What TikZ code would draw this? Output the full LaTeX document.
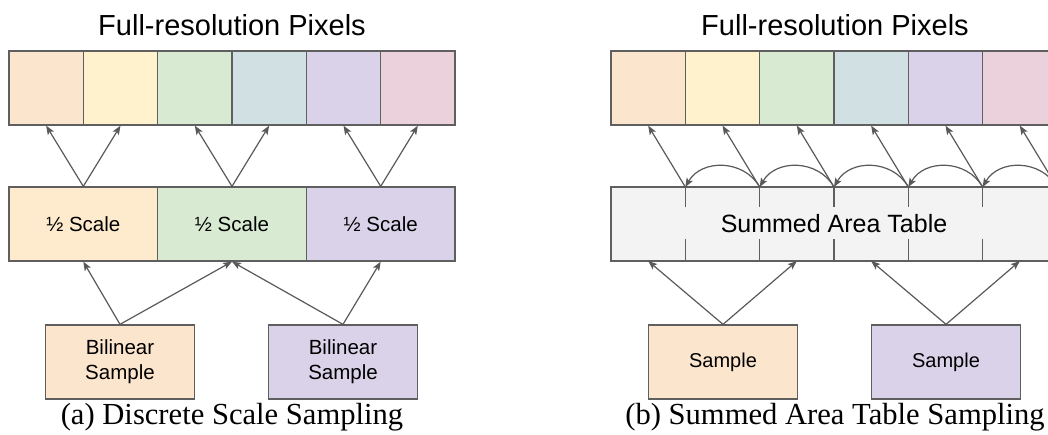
\documentclass[tikz,border=0pt]{standalone}
\usepackage{fontspec}
\setmainfont{Liberation Serif}
\setsansfont{Liberation Sans}
\usetikzlibrary{positioning,arrows.meta}

\definecolor{corange}{HTML}{FCE5CD}
\definecolor{cyellow}{HTML}{FFF2CC}
\definecolor{chalf}{HTML}{FEEACC}
\definecolor{cgreen}{HTML}{D9EAD3}
\definecolor{cblue}{HTML}{D0E0E3}
\definecolor{cpurple}{HTML}{D9D2E9}
\definecolor{cpink}{HTML}{EAD1DC}
\definecolor{cgray}{HTML}{F3F3F3}
\definecolor{cline}{HTML}{5F5F5F}
\definecolor{carrow}{HTML}{595959}

\begin{document}
\begin{tikzpicture}[x=1pt,y=-1pt,
  cell/.style={draw=cline, line width=1.3pt, minimum width=74.33pt, minimum height=74pt, inner sep=0pt,
    font=\sffamily\fontsize{20.5}{25}\selectfont, align=center},
  wide/.style={cell, minimum width=148.67pt},
  arr/.style={-{Stealth[length=9pt,width=7pt,inset=2pt]}, draw=carrow, line width=1.2pt},
  tick/.style={draw=cline, line width=1.3pt},
  title/.style={font=\sffamily\fontsize{29}{34}\selectfont},
  caption/.style={font=\fontsize{30.6}{36}\selectfont}]

\useasboundingbox (0,0) rectangle (1048,434);
\clip (0,0) rectangle (1048,434);

% (a) discrete scales
\node[title] (ta) at (232,25) {Full-resolution Pixels};
\foreach \c [count=\i] in {corange,cyellow,cgreen,cblue,cpurple,cpink}
  \node[cell, fill=\c] (a\i) at ({9+74.33*(\i-0.5)},88) {};

\node[wide, fill=chalf] (m1) at (83.3,224) {½ Scale};
\node[wide, fill=cgreen] (m2) at (232,224) {½ Scale};
\node[wide, fill=cpurple] (m3) at (380.7,224) {½ Scale};

\node[wide, fill=corange, font=\sffamily\fontsize{20.5}{25}\selectfont] (b1) at (120,362) {Bilinear\\Sample};
\node[wide, fill=cpurple, font=\sffamily\fontsize{20.5}{25}\selectfont] (b2) at (343,362) {Bilinear\\Sample};

\draw[arr] (m1.north) -- (a1.south);
\draw[arr] (m1.north) -- (a2.south);
\draw[arr] (m2.north) -- (a3.south);
\draw[arr] (m2.north) -- (a4.south);
\draw[arr] (m3.north) -- (a5.south);
\draw[arr] (m3.north) -- (a6.south);

\draw[arr] (b1.north) -- (m1.south);
\draw[arr] (b1.north) -- (m2.south);
\draw[arr] (b2.north) -- (m2.south);
\draw[arr] (b2.north) -- (m3.south);

\node[caption] (ca) at (232,417) {(a) Discrete Scale Sampling};

% (b) summed area table
\node[title] (tb) at (835,25) {Full-resolution Pixels};
\foreach \c [count=\i] in {corange,cyellow,cgreen,cblue,cpurple,cpink}
  \node[cell, fill=\c] (p\i) at ({611+74.33*(\i-0.5)},88) {};

\node[cell, minimum width=446pt, fill=cgray, font=\sffamily\fontsize{25}{30}\selectfont] (sat) at (834,224) {Summed Area Table};
\foreach \i in {1,...,6} {
  \coordinate (t\i) at ({611+74.33*\i},187);
  \coordinate (u\i) at ({611+74.33*(\i-0.5)},261);
}
\foreach \i in {1,...,5} {
  \draw[tick] (t\i) -- ++(0,20);
  \draw[tick] (t\i) ++(0,52) -- ++(0,22);
}
\foreach \i in {1,...,6}
  \draw[arr] (t\i) -- (p\i.south);
\foreach \i [evaluate=\i as \j using int(\i+1)] in {1,...,5}
  \draw[arr] (t\j) .. controls +(-16,-28) and +(16,-28) .. (t\i);

\node[wide, fill=corange, font=\sffamily\fontsize{20}{24}\selectfont] (s1) at (723,362) {Sample};
\node[wide, fill=cpurple, font=\sffamily\fontsize{20}{24}\selectfont] (s2) at (946,362) {Sample};

\draw[arr] (s1.north) -- (u1);
\draw[arr] (s1.north) -- (u3);
\draw[arr] (s2.north) -- (u4);
\draw[arr] (s2.north) -- (u6);

\node[caption] (cb) at (835,417) {(b) Summed Area Table Sampling};

\end{tikzpicture}
\end{document}
